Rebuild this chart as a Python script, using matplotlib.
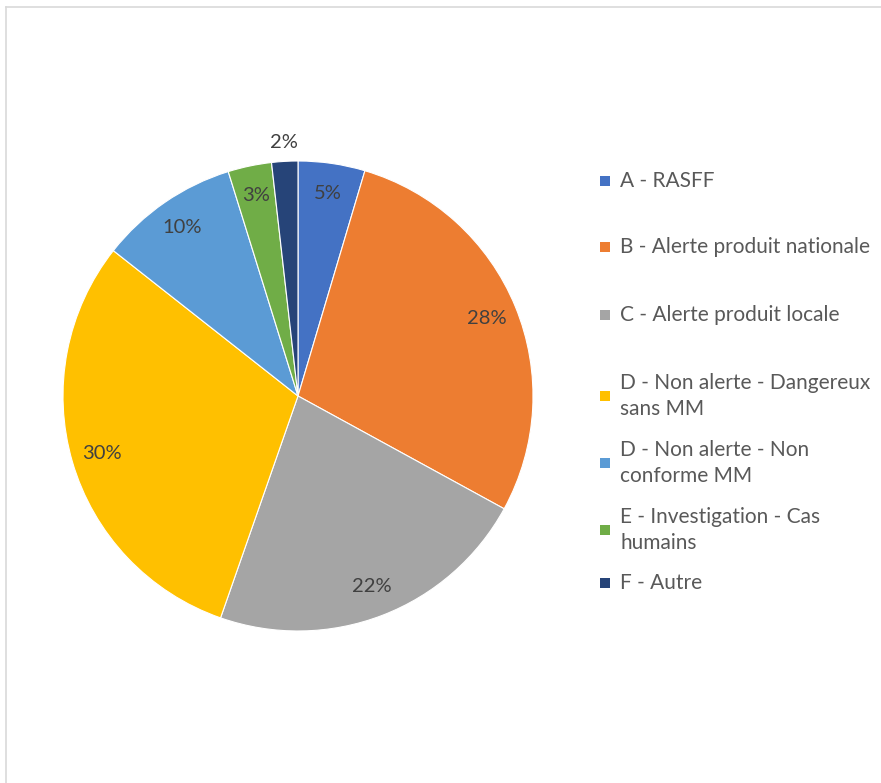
import matplotlib
matplotlib.use("Agg")
import matplotlib.pyplot as plt
from matplotlib.patches import Rectangle
from matplotlib.lines import Line2D
import numpy as np

plt.rcParams['font.family'] = ['Lato', 'DejaVu Sans']

categories = ["A - RASFF", "B - Alerte produit nationale", "C - Alerte produit locale",
              "D - Non alerte - Dangereux\nsans MM", "D - Non alerte - Non\nconforme MM",
              "E - Investigation - Cas\nhumains", "F - Autre"]
values = [4.6, 28.4, 22.4, 30.3, 9.6, 3.0, 1.8]
colors = ["#4472C4", "#ED7D31", "#A5A5A5", "#FFC000", "#5B9BD5", "#70AD47", "#264478"]

W, H = 881, 783
fig = plt.figure(figsize=(W / 100, H / 100), dpi=100)

# chart frame (top and left edges visible)
fig.add_artist(Line2D([5.5 / W, 5.5 / W], [0, 1 - 6.5 / H], color="#D9D9D9", lw=1.2))
fig.add_artist(Line2D([5.5 / W, 1], [1 - 6.5 / H, 1 - 6.5 / H], color="#D9D9D9", lw=1.2))

cx, cy, r = 298, 396, 235
ax = fig.add_axes([(cx - r) / W, (H - cy - r) / H, 2 * r / W, 2 * r / H])
wedges, texts, autotexts = ax.pie(values, colors=colors, startangle=90, counterclock=False,
                                  autopct=lambda p: f"{int(p + 0.5)}%", pctdistance=0.87,
                                  wedgeprops=dict(edgecolor="white", linewidth=0.8),
                                  textprops=dict(color="#404040", fontsize=14.5))
# smallest slice label outside
w = wedges[-1]
ang = np.deg2rad((w.theta1 + w.theta2) / 2)
autotexts[-1].set_position((1.08 * np.cos(ang), 1.08 * np.sin(ang)))
ax.set_xlim(-1, 1)
ax.set_ylim(-1, 1)

# legend (Excel-like spacing)
leg_y = [181, 247, 315, 396, 463, 530, 583]
for cat, col, y in zip(categories, colors, leg_y):
    fig.add_artist(Rectangle(((600) / W, 1 - (y + 5) / H), 10 / W, 10 / H,
                             facecolor=col, edgecolor="none", transform=fig.transFigure))
    fig.text(620 / W, 1 - y / H, cat, color="#595959", fontsize=15, va="center", ha="left",
             linespacing=1.4)

fig.savefig("out.png", dpi=100)
